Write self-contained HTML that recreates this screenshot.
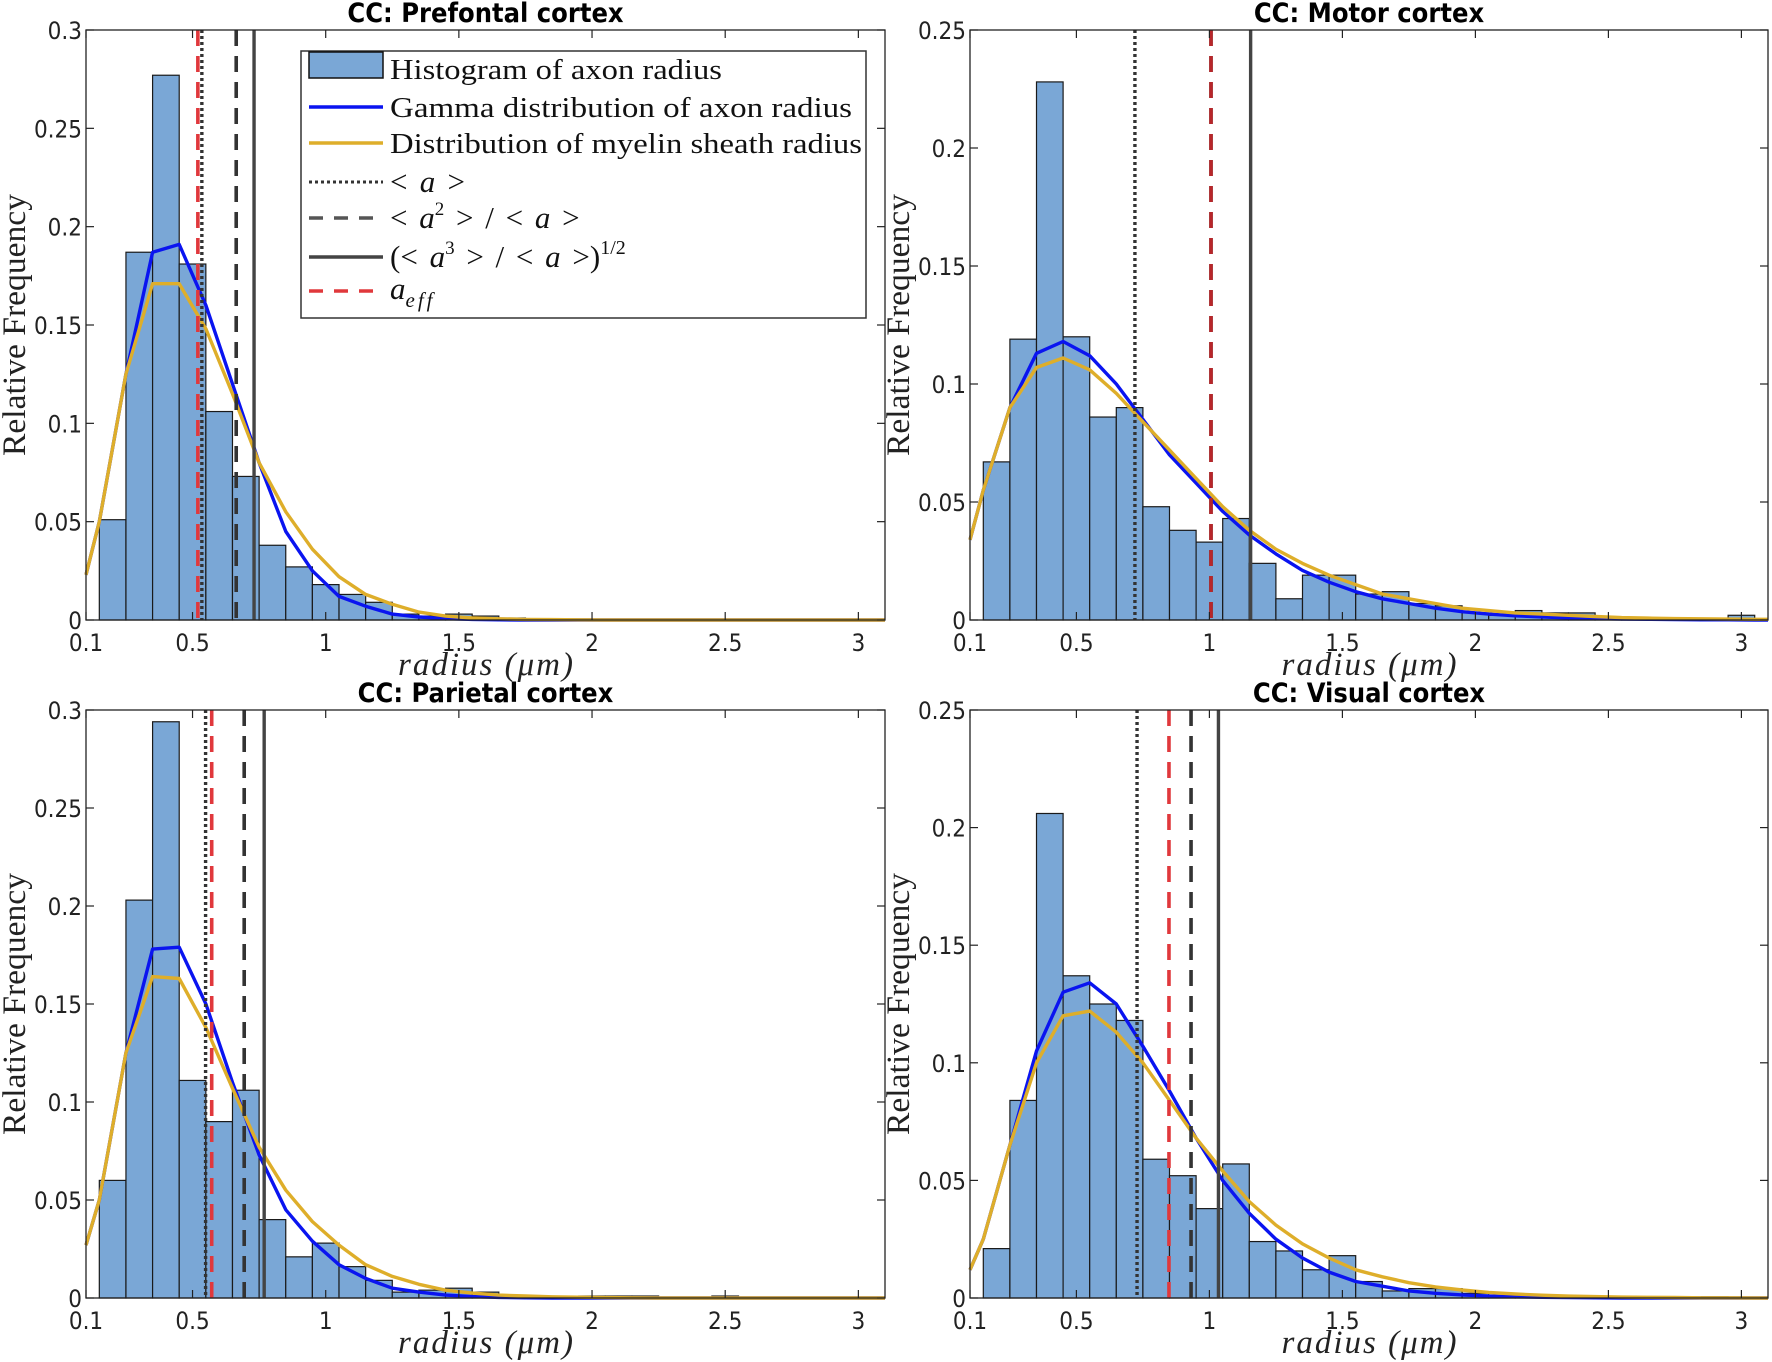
<!DOCTYPE html>
<html><head><meta charset="utf-8"><style>
html,body{margin:0;padding:0;background:#fff;}
svg{display:block;}
.tick{font-family:"DejaVu Sans Condensed","DejaVu Sans","Liberation Sans",sans-serif;font-size:24px;fill:#222;}
.ttl{font-family:"DejaVu Sans Condensed","DejaVu Sans","Liberation Sans",sans-serif;font-size:27px;font-weight:bold;fill:#000;}
.lab{font-family:"Liberation Serif",serif;font-size:33px;fill:#222;}
.leg{font-family:"Liberation Serif",serif;font-size:29px;fill:#111;}
.legm{font-family:"Liberation Serif",serif;font-size:31px;fill:#111;word-spacing:4px;}
</style></head><body>
<svg id="fig" width="1772" height="1362" viewBox="0 0 1772 1362" xmlns="http://www.w3.org/2000/svg"></svg>
<script>
// shared sample positions
const binCenters = [0.2,0.3,0.4,0.5,0.6,0.7,0.8,0.9,1.0,1.1,1.2,1.3,1.4,1.5,1.6,1.7,1.8,1.9,2.0,2.1,2.2,2.3,2.4,2.5,2.6,2.7,2.8,2.9,3.0];
const curveX = [0.1,0.15,0.25,0.35,0.45,0.55,0.65,0.75,0.85,0.95,1.05,1.15,1.25,1.35,1.45,1.55,1.65,1.75,1.85,1.95,2.05,2.15,2.25,2.35,2.45,2.55,2.65,2.75,2.85,2.95,3.05,3.1];
const xTicks = [0.1,0.5,1,1.5,2,2.5,3];
const xTickLabels = ["0.1","0.5","1","1.5","2","2.5","3"];

// Prefrontal
const pfBars = [0.051,0.187,0.277,0.181,0.106,0.073,0.038,0.027,0.018,0.013,0.009,0.003,0.002,0.003,0.002,0.001,0,0,0,0,0,0,0,0,0,0,0,0,0];
const pfGamma = [0.023,0.05,0.125,0.187,0.191,0.16,0.12,0.08,0.045,0.025,0.012,0.007,0.003,0.0015,0.0007,0.0003,0.0001,0,0,0,0,0,0,0,0,0,0,0,0,0,0,0];
const pfMyelin = [0.023,0.05,0.125,0.171,0.171,0.148,0.115,0.08,0.055,0.036,0.022,0.013,0.008,0.004,0.002,0.001,0.0006,0.0003,0.0002,0.0001,0,0,0,0,0,0,0,0,0,0,0,0];
const pfLines = [0.535,0.664,0.731,0.52]; // <a>, <a2>/<a>, sqrt(<a3>/<a>), a_eff
const pfYTicks = [0,0.05,0.1,0.15,0.2,0.25,0.3];
const pfYLabels = ["0","0.05","0.1","0.15","0.2","0.25","0.3"];

// Motor
const moBars = [0.067,0.119,0.228,0.120,0.086,0.090,0.048,0.038,0.033,0.043,0.024,0.009,0.019,0.019,0.011,0.012,0.007,0.006,0.003,0.002,0.004,0.003,0.003,0.001,0.0005,0.0005,0.0005,0.0005,0.002];
const moGamma = [0.034,0.055,0.09,0.113,0.118,0.112,0.1,0.085,0.07,0.058,0.046,0.036,0.028,0.021,0.016,0.012,0.009,0.007,0.005,0.0035,0.0025,0.0018,0.0013,0.0009,0.0006,0.0004,0.0003,0.0002,0.0001,0.0001,0,0];
const moMyelin = [0.034,0.055,0.09,0.107,0.111,0.106,0.096,0.084,0.072,0.06,0.048,0.038,0.03,0.024,0.019,0.015,0.011,0.009,0.007,0.005,0.004,0.003,0.0025,0.002,0.0015,0.001,0.0008,0.0006,0.0005,0.0004,0.0003,0.0003];
const moLines = [0.72,1.006,1.155,1.006];
const moYTicks = [0,0.05,0.1,0.15,0.2,0.25];
const moYLabels = ["0","0.05","0.1","0.15","0.2","0.25"];

// Parietal
const paBars = [0.060,0.203,0.294,0.111,0.090,0.106,0.040,0.021,0.028,0.016,0.009,0.003,0.004,0.005,0.003,0,0,0,0.001,0.001,0.001,0,0,0.001,0,0,0,0,0];
const paGamma = [0.027,0.05,0.125,0.178,0.179,0.15,0.11,0.073,0.045,0.029,0.017,0.01,0.005,0.003,0.0015,0.0007,0.0003,0.0001,0,0,0,0,0,0,0,0,0,0,0,0,0,0];
const paMyelin = [0.027,0.05,0.125,0.164,0.163,0.138,0.107,0.077,0.055,0.039,0.027,0.017,0.011,0.007,0.004,0.0025,0.0015,0.001,0.0006,0.0004,0.0002,0.0001,0,0,0,0,0,0,0,0,0,0];
const paLines = [0.549,0.694,0.769,0.572];
const paYTicks = [0,0.05,0.1,0.15,0.2,0.25,0.3];
const paYLabels = ["0","0.05","0.1","0.15","0.2","0.25","0.3"];

// Visual
const viBars = [0.021,0.084,0.206,0.137,0.125,0.118,0.059,0.052,0.038,0.057,0.024,0.020,0.012,0.018,0.007,0.003,0.004,0.004,0.002,0.001,0.001,0.001,0,0,0,0,0,0.0005,0];
const viGamma = [0.012,0.025,0.065,0.105,0.13,0.134,0.125,0.107,0.088,0.068,0.05,0.036,0.025,0.017,0.011,0.007,0.005,0.003,0.002,0.0013,0.0008,0.0005,0.0003,0.0002,0.0001,0,0,0,0,0,0,0];
const viMyelin = [0.012,0.025,0.065,0.1,0.12,0.122,0.113,0.1,0.084,0.068,0.054,0.041,0.031,0.023,0.017,0.012,0.009,0.0065,0.0047,0.0034,0.0024,0.0017,0.0012,0.0008,0.0006,0.0004,0.0003,0.0002,0.0001,0.0001,0,0];
const viLines = [0.728,0.931,1.034,0.848];
const viYTicks = [0,0.05,0.1,0.15,0.2,0.25];
const viYLabels = ["0","0.05","0.1","0.15","0.2","0.25"];

const NS = "http://www.w3.org/2000/svg";
const svg = document.getElementById('fig');
function mk(tag, attrs, parent){
  const e = document.createElementNS(NS, tag);
  for (const k in attrs) e.setAttribute(k, attrs[k]);
  (parent||svg).appendChild(e);
  return e;
}

function panel(o){
  const g = mk('g', {});
  
  
  const L=o.left,R=o.right,T=o.top,B=o.bottom;
  const xs = v => L + (v-0.1)/3.0*(R-L);
  const ys = v => B - v/o.ymax*(B-T);
  for (let i=0;i<o.bars.length;i++){
    if (o.bars[i] <= 0) continue;
    const x0 = xs(binCenters[i]-0.05), x1 = xs(binCenters[i]+0.05);
    const r = mk('rect', {x:x0, y:ys(o.bars[i]), width:x1-x0, height:B-ys(o.bars[i]), fill:'#7aa7d6', stroke:'#1a1a1a', 'stroke-width':1.2}, g);
    
    
  }
  const mkLine = (arr, color, nm) => {
    let d = '';
    for (let i=0;i<curveX.length;i++) d += (i?'L':'M') + xs(curveX[i]).toFixed(1) + ',' + ys(arr[i]).toFixed(1);
    const p = mk('path', {d:d, fill:'none', stroke:color, 'stroke-width':3.4, 'stroke-linejoin':'round'}, g);
    
    
  };
  mkLine(o.gamma, '#0a14f0', 'gamma-curve');
  mkLine(o.myelin, '#deae2a', 'myelin-curve');
  const vl = (v, color, dash, w, nm) => {
    const l = mk('line', {x1:xs(v), x2:xs(v), y1:T, y2:B, stroke:color, 'stroke-width':w, 'stroke-dasharray':dash}, g);
    
    
  };
  vl(o.lines[0], '#333', '3,3', 3.4, 'mean-radius-line');
  vl(o.lines[1], '#333', '16,10', 3.6, 'a2-over-a-line');
  vl(o.lines[2], '#444', 'none', 3.4, 'a3-over-a-line');
  vl(o.lines[3], o.redColor||'#e0383c', '16,10', 3.6, 'a-eff-line');
  const box = mk('rect', {x:L, y:T, width:R-L, height:B-T, fill:'none', stroke:'#222', 'stroke-width':1.3}, g);
  
  
  for (let i=0;i<xTicks.length;i++){
    const x = xs(xTicks[i]);
    mk('line', {x1:x,x2:x,y1:B,y2:B-8,stroke:'#222','stroke-width':1.2}, g);
    mk('line', {x1:x,x2:x,y1:T,y2:T+8,stroke:'#222','stroke-width':1.2}, g);
    const t = mk('text', {x:x, y:B+31, 'text-anchor':'middle', class:'tick'}, g);
    t.textContent = xTickLabels[i];
    
    
  }
  for (let i=0;i<o.yticks.length;i++){
    const y = ys(o.yticks[i]);
    mk('line', {x1:L,x2:L+8,y1:y,y2:y,stroke:'#222','stroke-width':1.2}, g);
    mk('line', {x1:R,x2:R-8,y1:y,y2:y,stroke:'#222','stroke-width':1.2}, g);
    const t = mk('text', {x:L-4, y:y+9, 'text-anchor':'end', class:'tick'}, g);
    t.textContent = o.ylabels[i];
    
    
  }
  const tt = mk('text', {x:(L+R)/2, y:T-8, 'text-anchor':'middle', class:'ttl'}, g);
  tt.textContent = o.title;
  
  
  const xl = mk('text', {x:(L+R)/2, y:B+55, 'text-anchor':'middle', class:'lab', 'font-style':'italic', textLength:175, lengthAdjust:'spacing'}, g);
  xl.textContent = 'radius (μm)';
  
  
  const yl = mk('text', {x:0, y:0, 'text-anchor':'middle', class:'lab', textLength:262, lengthAdjust:'spacingAndGlyphs', transform:'translate('+(L-61)+','+((T+B)/2)+') rotate(-90)'}, g);
  yl.textContent = 'Relative Frequency';
  
  
}

panel({name:'prefrontal-panel', title:'CC: Prefontal cortex', left:86, right:885, top:30, bottom:620, ymax:0.3, bars:pfBars, gamma:pfGamma, myelin:pfMyelin, lines:pfLines, yticks:pfYTicks, ylabels:pfYLabels});
panel({name:'motor-panel', title:'CC: Motor cortex', left:970, right:1768, top:30, bottom:620, ymax:0.25, bars:moBars, gamma:moGamma, myelin:moMyelin, lines:moLines, yticks:moYTicks, ylabels:moYLabels, redColor:'#b8262a'});
panel({name:'parietal-panel', title:'CC: Parietal cortex', left:86, right:885, top:710, bottom:1298, ymax:0.3, bars:paBars, gamma:paGamma, myelin:paMyelin, lines:paLines, yticks:paYTicks, ylabels:paYLabels});
panel({name:'visual-panel', title:'CC: Visual cortex', left:970, right:1768, top:710, bottom:1298, ymax:0.25, bars:viBars, gamma:viGamma, myelin:viMyelin, lines:viLines, yticks:viYTicks, ylabels:viYLabels});

// legend
const lg = mk('g', {});


mk('rect', {x:301, y:51, width:565, height:267, fill:'#fff', stroke:'#333', 'stroke-width':1.5}, lg);
const rows = [79,117,153,192,228,267,303];
mk('rect', {x:309, y:rows[0]-27, width:74, height:26, fill:'#7aa7d6', stroke:'#111', 'stroke-width':1.5}, lg);
const sample = (y, color, dash, w) => mk('line', {x1:309, x2:383, y1:y, y2:y, stroke:color, 'stroke-width':w, 'stroke-dasharray':dash}, lg);
sample(rows[1]-10, '#0a14f0', 'none', 3.5);
sample(rows[2]-10, '#deae2a', 'none', 3.5);
sample(rows[3]-10, '#333', '3,3', 3);
sample(rows[4]-10, '#555', '14,11', 3.5);
sample(rows[5]-10, '#444', 'none', 3.5);
sample(rows[6]-12, '#e0383c', '14,11', 3.5);
const legTexts = [
  ['Histogram of axon radius', 'legend-entry-histogram', 332],
  ['Gamma distribution of axon radius', 'legend-entry-gamma', 462],
  ['Distribution of myelin sheath radius', 'legend-entry-myelin', 472]
];
for (let i=0;i<3;i++){
  const t = mk('text', {x:390, y:rows[i], class:'leg', textLength:legTexts[i][2], lengthAdjust:'spacingAndGlyphs'}, lg);
  t.textContent = legTexts[i][0];
  
  
}
const t3 = mk('text', {x:390, y:rows[3], class:'legm', textLength:75, lengthAdjust:'spacing'}, lg);
t3.innerHTML = '&lt; <tspan font-style="italic">a</tspan> &gt;';


const t4 = mk('text', {x:390, y:rows[4], class:'legm'}, lg);
t4.innerHTML = '&lt;  <tspan font-style="italic">a</tspan><tspan dy="-13" font-size="19">2</tspan><tspan dy="13">  &gt;  /  &lt;  </tspan><tspan font-style="italic">a</tspan>  &gt;';


const t5 = mk('text', {x:390, y:rows[5], class:'legm'}, lg);
t5.innerHTML = '(&lt;  <tspan font-style="italic">a</tspan><tspan dy="-13" font-size="19">3</tspan><tspan dy="13">  &gt;  /  &lt;  </tspan><tspan font-style="italic">a</tspan>  &gt;)<tspan dy="-13" font-size="20">1/2</tspan>';


const t6 = mk('text', {x:390, y:rows[6]-4, class:'legm', 'font-style':'italic'}, lg);
t6.innerHTML = 'a<tspan dy="8" font-size="21" letter-spacing="3">eff</tspan>';


</script>
</body></html>
